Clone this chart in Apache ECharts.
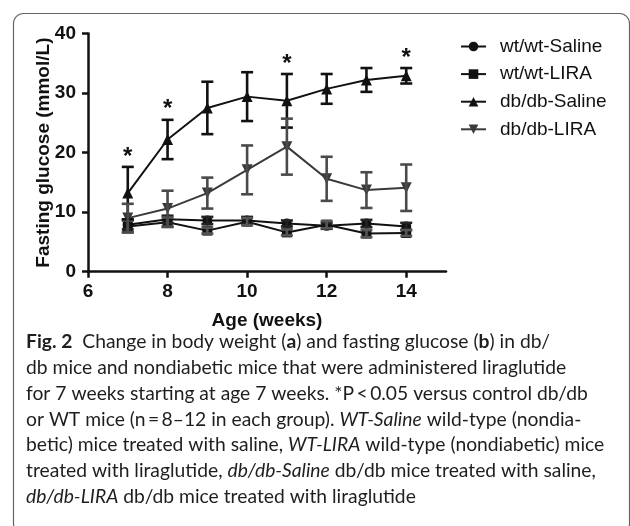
<!DOCTYPE html>
<html><head><meta charset="utf-8">
<script src="https://cdn.jsdelivr.net/npm/echarts@6/dist/echarts.min.js"></script>
<style>html,body{margin:0;padding:0;background:#fff}#c{width:630px;height:526px}</style>
</head><body><div id="c"></div>
<script>
// ---- data ----
const weeks = [7, 8, 9, 10, 11, 12, 13, 14];
const xTicks = [6, 8, 10, 12, 14];
const yTicks = [0, 10, 20, 30, 40];
const seriesNames = ['wt/wt-Saline', 'wt/wt-LIRA', 'db/db-Saline', 'db/db-LIRA'];
const wtSalineMean = [7.9, 8.8, 8.6, 8.6, 8.1, 7.7, 8.1, 7.6];
const wtSalineErr  = [0.8, 0.6, 0.6, 0.6, 0.5, 0.5, 0.6, 0.6];
const wtLiraMean   = [7.6, 8.3, 6.9, 8.4, 6.6, 7.9, 6.4, 6.5];
const wtLiraErr    = [1.0, 0.8, 0.5, 0.6, 0.5, 0.6, 0.6, 0.5];
const dbSalineMean = [13.2, 22.2, 27.5, 29.4, 28.7, 30.7, 32.2, 32.9];
const dbSalineErr  = [4.4, 3.3, 4.4, 4.1, 4.5, 2.5, 2.0, 1.3];
const dbLiraMean   = [9.0, 10.6, 13.2, 17.1, 21.0, 15.6, 13.7, 14.1];
const dbLiraErr    = [2.4, 3.0, 2.6, 4.1, 4.7, 3.7, 3.0, 3.9];
const sigWeeks = [7, 8, 11, 14];
const xTitle = 'Age (weeks)';
const yTitle = 'Fasting glucose (mmol/L)';
const captionLines = [
  '{b|Fig. 2}  Change in body weight ({b|a}) and fasting glucose ({b|b}) in db/',
  'db mice and nondiabetic mice that were administered liraglutide',
  'for 7 weeks starting at age 7 weeks. *P\u2009<\u20090.05 versus control db/db',
  'or WT mice (n\u2009=\u20098\u201312 in each group). {i|WT-Saline} wild-type (nondia-',
  'betic) mice treated with saline, {i|WT-LIRA} wild-type (nondiabetic) mice',
  'treated with liraglutide, {i|db/db-Saline} db/db mice treated with saline,',
  '{i|db/db-LIRA} db/db mice treated with liraglutide'
];

// ---- chart ----
const FONT = '"Liberation Sans", Arial, sans-serif';
const CAP_FONT = 'Lato, "Open Sans", sans-serif';
const CAP_SIZE = 19.3;
const CAP_COLOR = '#1e1e1e';
const chart = echarts.init(document.getElementById('c'));

function lineSeries(name, mean, symbol, rotate, size, color) {
  return {
    type: 'line', name: name,
    data: weeks.map((w, i) => [w, mean[i]]),
    symbol: symbol, symbolRotate: rotate, symbolSize: size,
    itemStyle: { color: color },
    lineStyle: { color: color, width: 2 },
    z: 3
  };
}
function errSeries(name, mean, err, color) {
  return {
    type: 'custom', name: 'err ' + name,
    data: weeks.map((w, i) => [w, mean[i] - err[i], mean[i] + err[i]]),
    encode: { x: 0, y: [1, 2] },
    z: 4,
    renderItem: function (params, api) {
      const x = api.value(0);
      const pLo = api.coord([x, api.value(1)]);
      const pHi = api.coord([x, api.value(2)]);
      const w = 6;
      const st = { stroke: color, lineWidth: 2.6 };
      return {
        type: 'group', children: [
          { type: 'line', shape: { x1: pLo[0], y1: pLo[1], x2: pHi[0], y2: pHi[1] }, style: st },
          { type: 'line', shape: { x1: pHi[0] - w, y1: pHi[1], x2: pHi[0] + w, y2: pHi[1] }, style: st },
          { type: 'line', shape: { x1: pLo[0] - w, y1: pLo[1], x2: pLo[0] + w, y2: pLo[1] }, style: st }
        ]
      };
    }
  };
}

const starSeries = {
  type: 'custom', name: 'significance',
  data: sigWeeks.map(w => { const i = weeks.indexOf(w); return [w, dbSalineMean[i] + dbSalineErr[i]]; }),
  encode: { x: 0, y: 1 },
  z: 5,
  renderItem: function (params, api) {
    const p = api.coord([api.value(0), api.value(1)]);
    return {
      type: 'text', x: p[0], y: p[1] - 10,
      style: { text: '*', fill: '#111', font: 'bold 24px ' + FONT, align: 'center', verticalAlign: 'middle' }
    };
  }
};

const graphics = [{
  type: 'rect', left: 11, top: 11, z: -1,
  shape: { width: 616, height: 520, r: 10 },
  style: { fill: 'none', stroke: '#666', lineWidth: 1.2 }
}];
const rich = {
  b: { fontWeight: 'bold', fontSize: CAP_SIZE, fontFamily: CAP_FONT, fill: CAP_COLOR },
  i: { fontStyle: 'italic', fontSize: CAP_SIZE, fontFamily: CAP_FONT, fill: CAP_COLOR }
};
captionLines.forEach((t, k) => {
  graphics.push({
    type: 'text', x: 26, y: 342 + 25.8 * k,
    style: { text: t, rich: rich, fontSize: CAP_SIZE, fontFamily: CAP_FONT, fill: CAP_COLOR, verticalAlign: 'middle' }
  });
});

chart.setOption({
  animation: false,
  backgroundColor: '#fff',
  textStyle: { fontFamily: FONT },
  grid: { left: 88, right: 184, top: 33.5, bottom: 254.3 },
  legend: {
    data: seriesNames, orient: 'vertical', left: 460, top: 37, padding: 0,
    itemWidth: 25, itemHeight: 12, itemGap: 8.6,
    textStyle: { fontSize: 19, fontFamily: FONT, color: '#111', padding: [0, 0, 0, 9] }
  },
  xAxis: {
    type: 'value', min: 6, max: 15, interval: 2,
    name: xTitle, nameLocation: 'middle', nameGap: 40, nameMoveOverlap: false,
    nameTextStyle: { fontSize: 19, fontWeight: 'bold', color: '#111', fontFamily: FONT },
    axisLine: { lineStyle: { color: '#111', width: 2.5 } },
    axisTick: { length: 6, lineStyle: { color: '#111', width: 2.5 }, customValues: xTicks },
    axisLabel: { fontSize: 19, fontWeight: 'bold', color: '#111', margin: 11, customValues: xTicks },
    splitLine: { show: false }
  },
  yAxis: {
    type: 'value', min: 0, max: 40, interval: 10,
    name: yTitle, nameLocation: 'middle', nameGap: 35, nameMoveOverlap: false,
    nameTextStyle: { fontSize: 19, fontWeight: 'bold', color: '#111', fontFamily: FONT },
    axisLine: { show: true, lineStyle: { color: '#111', width: 2.5 } },
    axisTick: { show: true, length: 6, lineStyle: { color: '#111', width: 2.5 }, customValues: yTicks },
    axisLabel: { fontSize: 19, fontWeight: 'bold', color: '#111', margin: 12, customValues: yTicks },
    splitLine: { show: false }
  },
  series: [
    lineSeries(seriesNames[0], wtSalineMean, 'circle', 0, 10, '#111'),
    lineSeries(seriesNames[1], wtLiraMean, 'rect', 0, 10, '#111'),
    lineSeries(seriesNames[2], dbSalineMean, 'triangle', 0, 11, '#111'),
    lineSeries(seriesNames[3], dbLiraMean, 'triangle', 180, 11, '#3a3a3a'),
    errSeries(seriesNames[0], wtSalineMean, wtSalineErr, '#222'),
    errSeries(seriesNames[1], wtLiraMean, wtLiraErr, '#555'),
    errSeries(seriesNames[2], dbSalineMean, dbSalineErr, '#111'),
    errSeries(seriesNames[3], dbLiraMean, dbLiraErr, '#4a4a4a'),
    starSeries
  ],
  graphic: graphics
});
</script></body></html>
